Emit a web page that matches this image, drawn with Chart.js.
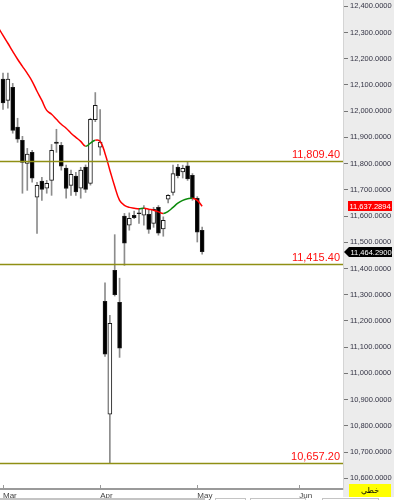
<!DOCTYPE html>
<html>
<head>
<meta charset="utf-8">
<script src="https://cdn.jsdelivr.net/npm/chart.js@4.4.1/dist/chart.umd.min.js"></script>
<style>
  html, body { margin: 0; padding: 0; background: #fff; }
</style>
</head>
<body>
<canvas id="chart" width="394" height="500"></canvas>
<script>
// daily candles, one per trading day (index 0 = first day shown)
const opens  = [12122, 12041, 12091, 11939, 11889, 11801, 11843, 11672, 11733, 11706,
                11736, 11882, 11870, 11783, 11717, 11752, 11706, 11787, 11724, 11968,
                11863, 11275, 10844, 11393, 11271, 11600, 11565, 11603, 11612, 11603,
                11607, 11572, 11633, 11551, 11664, 11690, 11787, 11768, 11792, 11755,
                11668, 11546]
const highs  = [12145, 12145, 12106, 11973, 11904, 11858, 11851, 11729, 11748, 11736,
                11873, 11931, 11881, 11794, 11775, 11767, 11786, 11795, 11973, 12071,
                12006, 11345, 11221, 11529, 11363, 11610, 11612, 11619, 11629, 11640,
                11622, 11633, 11640, 11597, 11682, 11794, 11797, 11794, 11806, 11762,
                11674, 11558]
const lows   = [12007, 12011, 11916, 11881, 11687, 11698, 11729, 11534, 11660, 11687,
                11679, 11843, 11775, 11668, 11679, 11679, 11668, 11690, 11718, 11960,
                11832, 11065, 10657.2, 11295, 11061, 11412, 11546, 11590, 11572, 11565,
                11534, 11557, 11527, 11523, 11650, 11680, 11745, 11745, 11736, 11660,
                11501, 11455]
const closes = [12031, 12122, 11927, 11893, 11805, 11836, 11744, 11717, 11702, 11725,
                11851, 11877, 11790, 11705, 11759, 11692, 11775, 11702, 11969, 12022,
                11882, 11073, 11191, 11300, 11096, 11497, 11591, 11594, 11609, 11630,
                11549, 11626, 11535, 11584, 11679, 11762, 11754, 11782, 11742, 11668,
                11539, 11464.29]

// moving average, starting one day before the first candle
const maStart = -1
const maValues = [12320, 12289, 12259, 12228, 12198, 12171, 12144, 12114, 12076, 12041,
                  12003, 11988, 11969, 11950, 11935, 11916, 11900, 11885, 11866, 11878,
                  11889, 11885, 11839, 11775, 11713, 11660, 11641, 11633, 11630, 11628,
                  11630, 11626, 11622, 11616, 11610, 11618, 11633, 11649, 11660, 11666,
                  11668, 11660, 11637.2894]

// horizontal support / resistance levels
const levels = [11809.40, 11415.40, 10657.20]

// axis ticks
const priceTicks = [10600, 10700, 10800, 10900, 11000, 11100, 11200, 11300, 11400, 11500,
                    11600, 11700, 11800, 11900, 12000, 12100, 12200, 12300, 12400]
const monthPos = [0, 20, 40, 61]
const monthNames = ["Mar", "Apr", "May", "Jun"]
const modeLabel = "خطي"

const fmt = (v, d) => v.toFixed(d).replace(/\B(?=(\d{3})+(?!\d))/g, ",")
const fmtTick = v => {
    let [a, b] = v.toFixed(4).split(".")
    return a.replace(/\B(?=(\d{3})+(?!\d))/g, ",") + "." + b
}

const wicks = opens.map((_, i) => ({x: i, y: [lows[i], highs[i]]}))
const bodies = opens.map((o, i) => ({x: i, y: [o, closes[i]]}))
const maLine = maValues.map((v, i) => ({x: i + maStart, y: v}))

const overlay = {
    id: "overlay",
    beforeDraw(chart) {
        const {ctx, chartArea: a} = chart
        ctx.save()
        ctx.fillStyle = "#fff"
        ctx.fillRect(0, 0, chart.width, chart.height)
        ctx.fillStyle = "#ececec"
        ctx.fillRect(a.right, 0, chart.width - a.right, 497)
        ctx.restore()
    },
    afterDatasetsDraw(chart) {
        const {ctx, chartArea: a, scales: {y}} = chart
        ctx.save()
        levels.forEach(v => {
            const py = Math.round(y.getPixelForValue(v)) + 0.5
            ctx.strokeStyle = "#8f8f14"
            ctx.lineWidth = 1.6
            ctx.beginPath()
            ctx.moveTo(a.left, py)
            ctx.lineTo(a.right, py)
            ctx.stroke()
            ctx.fillStyle = "#ff1010"
            ctx.font = '11px "Liberation Sans"'
            ctx.textAlign = "right"
            ctx.textBaseline = "alphabetic"
            ctx.fillText(fmt(v, 2), a.right - 3, py - 4)
        })
        ctx.restore()
    },
    afterDraw(chart) {
        const {ctx, chartArea: a, scales: {x, y}} = chart
        ctx.save()
        // month tick marks pointing up into the plot
        ctx.strokeStyle = "#9a9a9a"
        ctx.lineWidth = 1
        monthPos.forEach(m => {
            const px = Math.round(x.getPixelForValue(m)) + 0.5
            ctx.beginPath()
            ctx.moveTo(px, a.bottom - 4)
            ctx.lineTo(px, a.bottom)
            ctx.stroke()
        })

        ctx.font = '7.5px "Liberation Sans"'
        ctx.textAlign = "center"
        ctx.textBaseline = "middle"

        // last moving average value
        const maLast = maValues[maValues.length - 1]
        const pm = Math.round(y.getPixelForValue(maLast))
        ctx.fillStyle = "#ff0000"
        ctx.fillRect(348, pm - 5, 44, 10)
        ctx.fillStyle = "#fff"
        ctx.fillText(fmtTick(maLast), 370, pm + 0.5)

        // last close
        const last = closes[closes.length - 1]
        const pc = Math.round(y.getPixelForValue(last))
        ctx.fillStyle = "#000"
        ctx.beginPath()
        ctx.moveTo(344, pc)
        ctx.lineTo(349, pc - 5)
        ctx.lineTo(392, pc - 5)
        ctx.lineTo(392, pc + 5)
        ctx.lineTo(349, pc + 5)
        ctx.closePath()
        ctx.fill()
        ctx.fillStyle = "#fff"
        ctx.fillText(fmtTick(last), 371, pc + 0.5)

        // chart type box
        ctx.fillStyle = "#ffff00"
        ctx.fillRect(349, 484, 42, 13)
        ctx.fillStyle = "#000"
        ctx.font = '8px "DejaVu Sans"'
        ctx.fillText(modeLabel, 370, 491)

        // scroll strip at the very bottom
        ctx.fillStyle = "#c4c4c4"
        ctx.fillRect(0, 498, 205, 2)
        ctx.strokeStyle = "#c4c4c4"
        ctx.strokeRect(215.5, 498.5, 30, 3)
        ctx.strokeRect(250.5, 498.5, 55, 3)
        ctx.strokeRect(322.5, 498.5, 56, 3)
        ctx.restore()
    }
}

new Chart(document.getElementById("chart"), {
    type: "bar",
    data: {
        datasets: [
            {
                type: "bar",
                data: wicks,
                backgroundColor: "#8c8c8c",
                barThickness: 1,
                grouped: false,
                order: 3
            },
            {
                type: "bar",
                data: bodies,
                backgroundColor: c => closes[c.dataIndex] < opens[c.dataIndex] ? "#000" : "#fff",
                borderColor: "#1a1a1a",
                borderWidth: 1,
                borderSkipped: false,
                barThickness: 4,
                grouped: false,
                order: 2
            },
            {
                type: "line",
                data: maLine,
                borderColor: "#ff0000",
                borderWidth: 1.5,
                pointRadius: 0,
                tension: 0.4,
                segment: {
                    borderColor: c => c.p1.parsed.y > c.p0.parsed.y ? "#0b8a0b" : "#ff0000"
                },
                order: 1
            }
        ]
    },
    options: {
        responsive: false,
        animation: false,
        devicePixelRatio: 1,
        layout: { padding: 0 },
        plugins: {
            legend: { display: false },
            tooltip: { enabled: false }
        },
        scales: {
            x: {
                type: "linear",
                min: -0.62,
                max: 70,
                offset: false,
                bounds: "ticks",
                grid: { display: false, drawTicks: false, offset: false },
                border: { display: true, color: "#9a9a9a", width: 2 },
                afterBuildTicks: s => { s.ticks = monthPos.map(v => ({value: v})) },
                ticks: {
                    autoSkip: false,
                    maxRotation: 0,
                    align: "start",
                    padding: 2,
                    font: { family: "Liberation Sans", size: 8 },
                    color: "#444",
                    callback: v => monthNames[monthPos.indexOf(v)]
                },
                afterFit: s => {
                    s.height = 11
                    s.paddingLeft = 0
                    s.paddingRight = 0
                }
            },
            y: {
                position: "right",
                min: 10559,
                max: 12424,
                afterBuildTicks: s => { s.ticks = priceTicks.map(v => ({value: v})) },
                grid: { drawOnChartArea: false, drawTicks: true, tickLength: 5, color: "#777" },
                border: { display: true, color: "#d4d4d4" },
                ticks: {
                    crossAlign: "near",
                    padding: 2,
                    font: { family: "Liberation Sans", size: 7.5 },
                    color: "#333344",
                    callback: v => fmtTick(v)
                },
                afterFit: s => {
                    s.width = 51
                    s.paddingTop = 0
                    s.paddingBottom = 0
                }
            }
        }
    },
    plugins: [overlay]
})
</script>
</body>
</html>
